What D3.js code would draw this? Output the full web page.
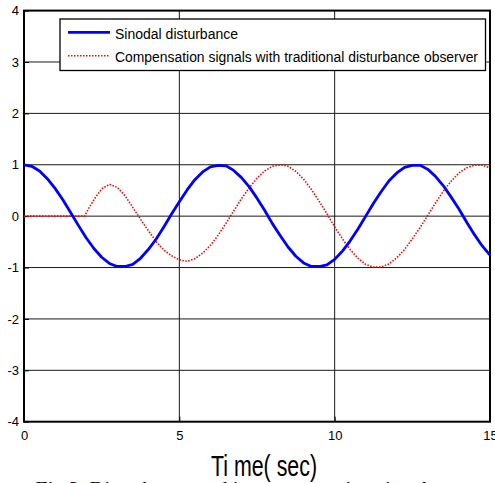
<!DOCTYPE html>
<html>
<head>
<meta charset="utf-8">
<script src="https://cdn.jsdelivr.net/npm/d3@7"></script>
<style>
  html, body { margin: 0; padding: 0; background: #fff; overflow: hidden; }
  svg { display: block; }
</style>
</head>
<body>
<svg id="chart" width="495" height="483"></svg>
<script>
// Sampled time axis (s) for the sinusoidal disturbance
const sinTime = [0,0.25,0.5,0.75,1,1.25,1.5,1.75,2,2.25,2.5,2.75,3,3.25,3.5,3.75,4,4.25,4.5,4.75,5,5.25,5.5,5.75,6,6.25,6.5,6.75,7,7.25,7.5,7.75,8,8.25,8.5,8.75,9,9.25,9.5,9.75,10,10.25,10.5,10.75,11,11.25,11.5,11.75,12,12.25,12.5,12.75,13,13.25,13.5,13.75,14,14.25,14.5,14.75,15];
const sinValue = [1.00,0.97,0.88,0.73,0.54,0.32,0.07,-0.18,-0.42,-0.63,-0.80,-0.92,-0.98,-0.98,-0.94,-0.82,-0.65,-0.45,-0.21,0.04,0.28,0.51,0.71,0.86,0.96,0.99,0.98,0.89,0.75,0.57,0.35,0.11,-0.15,-0.38,-0.60,-0.78,-0.91,-0.98,-0.98,-0.95,-0.84,-0.68,-0.48,-0.25,0.00,0.25,0.48,0.69,0.84,0.95,0.99,0.99,0.91,0.77,0.59,0.37,0.14,-0.12,-0.36,-0.58,-0.76];

// Compensation signal from the traditional disturbance observer
const compTime = [0,1.95,2.1,2.25,2.5,2.75,3,3.25,3.5,3.75,4,4.25,4.5,4.75,5,5.25,5.5,5.75,6,6.25,6.5,6.75,7,7.25,7.5,7.75,8,8.25,8.5,8.75,9,9.25,9.5,9.75,10,10.25,10.5,10.75,11,11.25,11.5,11.75,12,12.25,12.5,12.75,13,13.25,13.5,13.75,14,14.25,14.5,14.75,15];
const compValue = [0,0,0.17,0.32,0.53,0.62,0.56,0.40,0.17,-0.06,-0.28,-0.49,-0.66,-0.77,-0.85,-0.88,-0.83,-0.72,-0.57,-0.37,-0.14,0.10,0.34,0.55,0.74,0.88,0.97,1.00,0.97,0.87,0.72,0.52,0.29,0.05,-0.21,-0.44,-0.65,-0.82,-0.94,-0.99,-0.99,-0.93,-0.81,-0.65,-0.44,-0.22,0.02,0.26,0.49,0.68,0.84,0.94,0.99,0.99,0.94];

const xTicks = [0, 5, 10, 15];
const yTicks = [-4, -3, -2, -1, 0, 1, 2, 3, 4];
const legendLabels = ["Sinodal disturbance", "Compensation signals with traditional disturbance observer"];
const xLabel = "Ti me( sec)";
const caption = "Fig.3. Disturbance and its compensation signals";

const svg = d3.select("#chart");
const x = d3.scaleLinear().domain([0, 15]).range([24, 490]);
const y = d3.scaleLinear().domain([-4, 4]).range([421.7, 10.6]);
const font = "Arial, 'Liberation Sans', Helvetica, sans-serif";
const plain = d => String(d);

// grid
const grid = svg.append("g").attr("stroke", "#1a1a1a").attr("stroke-width", 1);
grid.selectAll("line.gx").data(xTicks.slice(1, -1)).join("line")
  .attr("x1", d => x(d)).attr("x2", d => x(d))
  .attr("y1", y(4)).attr("y2", y(-4));
grid.selectAll("line.gy").data(yTicks.slice(1, -1)).join("line")
  .attr("x1", x(0)).attr("x2", x(15))
  .attr("y1", d => y(d)).attr("y2", d => y(d));

// axes with inward ticks
const xAxis = svg.append("g").attr("transform", `translate(0,${y(-4)})`)
  .call(d3.axisBottom(x).tickValues(xTicks).tickSize(-5).tickPadding(9).tickFormat(plain));
const yAxis = svg.append("g").attr("transform", `translate(${x(0)},0)`)
  .call(d3.axisLeft(y).tickValues(yTicks).tickSize(-5).tickPadding(5).tickFormat(plain));
[xAxis, yAxis].forEach(g => {
  g.select(".domain").remove();
  g.selectAll(".tick line").attr("stroke", "#000");
  g.selectAll(".tick text").attr("fill", "#000").style("font-family", font).style("font-size", "13px");
});

// frame
svg.append("rect")
  .attr("x", x(0)).attr("y", y(4))
  .attr("width", x(15) - x(0)).attr("height", y(-4) - y(4))
  .attr("fill", "none").attr("stroke", "#000").attr("stroke-width", 2);

// series
const sinData = sinTime.map((t, i) => [t, sinValue[i]]);
const compData = compTime.map((t, i) => [t, compValue[i]]);
const line = d3.line().x(d => x(d[0])).y(d => y(d[1]));

svg.append("path").datum(compData)
  .attr("d", line).attr("fill", "none")
  .attr("stroke", "#ff0000").attr("stroke-width", 1.6)
  .attr("stroke-dasharray", "1.5,1.5");

svg.append("path").datum(sinData)
  .attr("d", line).attr("fill", "none")
  .attr("stroke", "#0000ff").attr("stroke-width", 2.8)
  .attr("stroke-linejoin", "round");

// legend
const lg = svg.append("g");
lg.append("rect").attr("x", 60).attr("y", 19).attr("width", 425.5).attr("height", 51.5)
  .attr("fill", "#fff").attr("stroke", "#000").attr("stroke-width", 1.3);
lg.append("line").attr("x1", 68).attr("x2", 110).attr("y1", 32.3).attr("y2", 32.3)
  .attr("stroke", "#0000ff").attr("stroke-width", 2.8);
lg.append("line").attr("x1", 68).attr("x2", 110).attr("y1", 55.7).attr("y2", 55.7)
  .attr("stroke", "#ff0000").attr("stroke-width", 1.6).attr("stroke-dasharray", "1.5,1.5");
lg.append("text").attr("x", 115).attr("y", 38.5).text(legendLabels[0])
  .style("font-family", font).style("font-size", "14px")
  .attr("textLength", 123).attr("lengthAdjust", "spacingAndGlyphs");
lg.append("text").attr("x", 115).attr("y", 62).text(legendLabels[1])
  .style("font-family", font).style("font-size", "14px")
  .attr("textLength", 363).attr("lengthAdjust", "spacingAndGlyphs");

// x label
svg.append("text").attr("x", 211).attr("y", 475.5).text(xLabel)
  .style("font-family", font).style("font-size", "29px")
  .attr("textLength", 106).attr("lengthAdjust", "spacingAndGlyphs");

// figure caption (runs past the bottom edge)
svg.append("text").attr("x", 34).attr("y", 495).text(caption)
  .style("font-family", "'Liberation Serif', 'Times New Roman', serif")
  .style("font-style", "italic").style("font-size", "19px")
  .attr("textLength", 400).attr("lengthAdjust", "spacingAndGlyphs");
</script>
</body>
</html>
